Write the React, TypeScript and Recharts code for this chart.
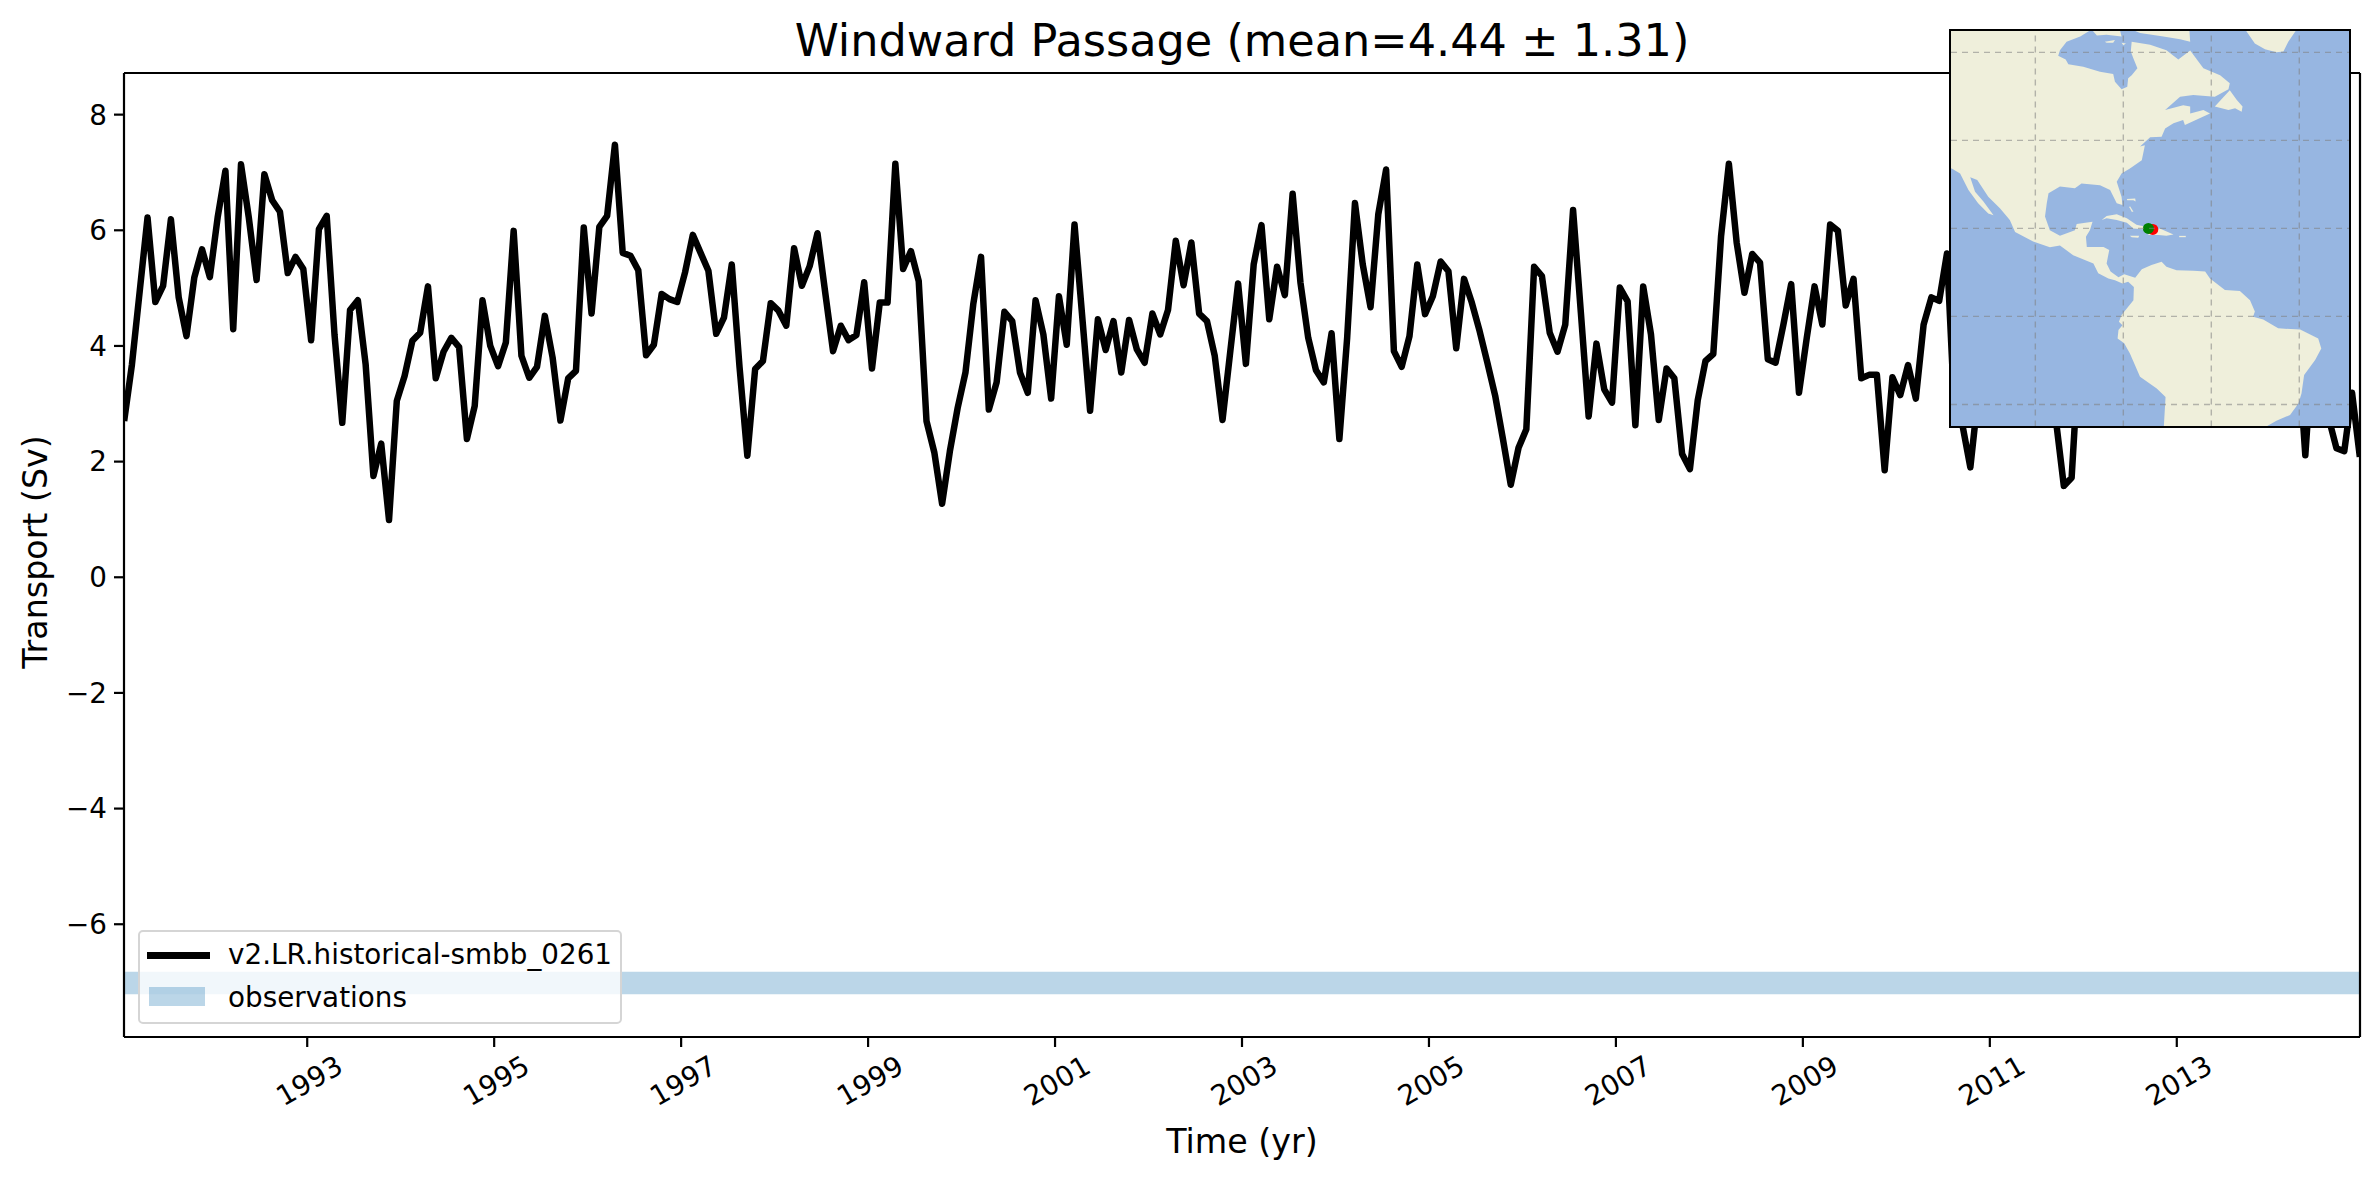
import {
    ComposedChart,
    Line,
    XAxis,
    YAxis,
    ReferenceArea,
    ReferenceLine,
    ScatterChart,
    Scatter,
} from "recharts";

// monthly transport, Jan 1991 - Dec 2014 (part of 2010-2014 sits behind the inset map)
const transport1991to1998 = [
    2.70, 3.68, 4.95, 6.22, 4.76, 5.04, 6.19, 4.84, 4.17, 5.18, 5.67, 5.19,
    6.22, 7.03, 4.29, 7.14, 6.22, 5.14, 6.97, 6.52, 6.32, 5.26, 5.54, 5.33,
    4.10, 6.02, 6.25, 4.20, 2.67, 4.62, 4.79, 3.68, 1.75, 2.31, 0.99, 3.05,
    3.48, 4.09, 4.23, 5.03, 3.44, 3.90, 4.14, 3.98, 2.39, 2.96, 4.79, 4.00,
    3.65, 4.06, 5.99, 3.83, 3.45, 3.64, 4.52, 3.80, 2.71, 3.44, 3.57, 6.05,
    4.56, 6.06, 6.25, 7.48, 5.61, 5.56, 5.31, 3.84, 4.02, 4.90, 4.81, 4.76,
    5.27, 5.92, 5.61, 5.30, 4.21, 4.49, 5.41, 3.63, 2.10, 3.60, 3.74, 4.74,
    4.61, 4.35, 5.69, 5.04, 5.38, 5.95, 4.92, 3.91, 4.35, 4.10, 4.19, 5.10,
];
const transport1999to2006 = [
    3.61, 4.75, 4.75, 7.15, 5.33, 5.64, 5.12, 2.70, 2.16, 1.27, 2.18, 2.93,
    3.54, 4.72, 5.54, 2.90, 3.37, 4.59, 4.43, 3.54, 3.19, 4.79, 4.20, 3.09,
    4.86, 4.02, 6.10, 4.49, 2.88, 4.46, 3.93, 4.43, 3.54, 4.45, 3.94, 3.71,
    4.56, 4.20, 4.62, 5.82, 5.05, 5.79, 4.56, 4.43, 3.83, 2.72, 3.91, 5.08,
    3.69, 5.41, 6.09, 4.46, 5.37, 4.88, 6.63, 5.10, 4.14, 3.58, 3.37, 4.22,
    2.39, 4.14, 6.47, 5.41, 4.67, 6.28, 7.05, 3.91, 3.64, 4.17, 5.41, 4.55,
    4.86, 5.46, 5.29, 3.96, 5.16, 4.75, 4.26, 3.71, 3.14, 2.39, 1.60, 2.24,
    2.56, 5.37, 5.21, 4.23, 3.90, 4.37, 6.35, 4.58, 2.78, 4.04, 3.25, 3.02,
];
const transport2007to2014 = [
    5.01, 4.77, 2.63, 5.03, 4.20, 2.72, 3.61, 3.44, 2.13, 1.87, 3.06, 3.74,
    3.86, 5.90, 7.15, 5.79, 4.92, 5.59, 5.44, 3.77, 3.71, 4.37, 5.07, 3.19,
    4.14, 5.03, 4.37, 6.10, 5.99, 4.70, 5.16, 3.44, 3.50, 3.50, 1.85, 3.46,
    3.15, 3.67, 3.09, 4.37, 4.84, 4.78, 5.60, 2.75, 2.62, 1.90, 3.15, 4.60,
    5.10, 4.30, 3.80, 5.40, 4.70, 3.90, 4.50, 3.20, 2.70, 1.58, 1.72, 4.00,
    5.20, 4.60, 5.80, 4.10, 3.70, 5.00, 6.00, 4.40, 3.60, 4.80, 5.30, 3.90,
    4.20, 5.60, 4.90, 3.50, 4.30, 5.10, 6.20, 4.70, 3.80, 4.50, 5.50, 4.00,
    3.60, 4.80, 5.20, 4.10, 2.11, 4.10, 4.00, 2.75, 2.23, 2.18, 3.19, 2.08,
];
const yearTicks = [1993, 1995, 1997, 1999, 2001, 2003, 2005, 2007, 2009, 2011, 2013];
const transportTicks = [-6, -4, -2, 0, 2, 4, 6, 8];
const obsLow = -7.21;
const obsHigh = -6.82;

// coastlines as lon/lat rings
const americas = [
    [-119.4, 65.2], [-87.2, 65.2], [-89.8, 63.6], [-92.9, 62.4], [-94.4, 60.5], [-94.8, 59.2], [-93.1, 58.4],
    [-92.5, 57.3], [-89.1, 56.7], [-85.3, 55.6], [-82.3, 55.1], [-81.9, 53.3], [-80.4, 51.6], [-79.1, 52.2],
    [-78.9, 54.1], [-78.1, 54.8], [-76.8, 56.4], [-77.7, 58.6], [-78.3, 60.2], [-78.1, 62.4], [-73.9, 61.7],
    [-70.2, 60.5], [-67.5, 58.4], [-64.8, 60.4], [-61.8, 56.4], [-58, 54.8], [-55.8, 53], [-56.1, 51.6],
    [-59.2, 49.9], [-64.1, 50.3], [-67.1, 49.9], [-70.5, 46.9], [-66.4, 48], [-64.8, 47.7], [-64.8, 46.1],
    [-61.8, 46.9], [-60.3, 46.1], [-66, 43.5], [-66.4, 44.6], [-68.6, 43.9], [-70.5, 42.7], [-71.3, 40.8],
    [-73.9, 40.7], [-76.2, 38.6], [-75.1, 38.9], [-75.8, 35.5], [-78.5, 33.6], [-80.4, 32.5], [-81.5, 30.6],
    [-80.4, 27.2], [-80.2, 25.3], [-81.5, 25.7], [-83, 28.7], [-85.3, 29.8], [-89.5, 30.2], [-91, 29.1],
    [-94.4, 29.5], [-97, 28], [-97.4, 25.7], [-97.8, 22.7], [-96.7, 19.6], [-94.4, 18.3], [-91, 19.6],
    [-90.6, 21], [-87, 21.5], [-87.6, 19.6], [-88.5, 18.1], [-88.3, 15.8], [-84.5, 15.8], [-83.2, 15.1],
    [-83.8, 12], [-82.9, 10.2], [-81.1, 8.9], [-79.8, 9.6], [-77.3, 8.8], [-75.8, 10.7], [-73.6, 11.7],
    [-71.3, 12.4], [-70.2, 11.3], [-67.9, 10.5], [-64.1, 10.4], [-61.4, 10.2], [-60.3, 8.6], [-56.9, 6],
    [-53.5, 5.8], [-51.2, 3.7], [-50.1, 1.1], [-50.5, -0.1], [-48.2, -0.7], [-44.8, -2.7], [-39.8, -3],
    [-35.7, -5], [-35, -7.3], [-36.4, -9.9], [-38.9, -13.3], [-39.5, -17.5], [-40.2, -19.8], [-42.1, -22.4],
    [-45.2, -23.7], [-47.8, -25.2], [-70.8, -25.2], [-70.4, -18.3], [-72.4, -16.4], [-76.2, -13.7], [-78.5, -8.4],
    [-79.8, -6.1], [-81.3, -5], [-81.1, -3.1], [-80.2, -2], [-81, -1.2], [-80.4, 0.3], [-77.7, 3.7],
    [-77.6, 6.7], [-78.9, 7.9], [-80.2, 7.5], [-81.9, 8.2], [-83.4, 8.6], [-85.7, 9.8], [-86.8, 12],
    [-91.4, 13.9], [-94.4, 16.1], [-96.7, 15.7], [-100.5, 17], [-104.6, 19.2], [-105.8, 21.9], [-108, 24.5],
    [-110.7, 27.2], [-113.2, 31], [-114.8, 31.6], [-113.7, 28.3], [-111.8, 26.1], [-109.5, 23], [-110.7, 23.4],
    [-113, 25.7], [-115.2, 28.7], [-117.1, 32.5], [-119, 33.6], [-119.4, 33.6],
];
const cuba = [
    [-84.9, 21.9], [-83.8, 22.8], [-81.5, 23.2], [-79.2, 22.3], [-77, 20.8], [-74.1, 20.2], [-75.5, 19.8],
    [-77.7, 20], [-79.2, 21.3], [-81.5, 21.9], [-83.8, 22.3],
];
const hispaniola = [[-74.3, 19.2], [-71.7, 20], [-68.6, 18.6], [-70.2, 18.3], [-72, 18.5], [-74.3, 18.5]];
const jamaica = [[-78.5, 18.3], [-76.4, 18.3], [-76.6, 17.9], [-78.1, 18]];
const puertoRico = [[-67.3, 18.3], [-65.8, 18.3], [-65.8, 18], [-67.3, 18]];
const bahamasNorth = [[-79.2, 26.7], [-77.3, 26.8], [-77.2, 26.1], [-77.7, 26.4], [-79.1, 26.4]];
const bahamasSouth = [[-78.5, 25.1], [-77.7, 23.8], [-78.1, 23.8], [-78.6, 24.8]];
const greenland = [[-52.3, 65.2], [-40.6, 65.2], [-42.5, 62.4], [-43.6, 60.2], [-45.2, 60], [-47.8, 60.7], [-50.1, 62]];
const baffinWest = [[-87.2, 65.2], [-80.8, 65.2], [-80.4, 63.6], [-83.8, 64], [-86, 63.8]];
const baffinEast = [[-78.1, 65.2], [-65, 65.2], [-64.8, 62.4], [-67.1, 63], [-70.9, 63.6], [-76.2, 64.4]];
const southampton = [[-84.2, 62.4], [-81.9, 62.8], [-82.3, 62.2], [-83.8, 62.2]];
const coats = [[-80.4, 62.2], [-79.4, 62], [-80, 61.6]];
const newfoundland = [
    [-59.2, 47.7], [-55.8, 51.4], [-54.2, 49.2], [-52.9, 47.7], [-53.1, 46.5], [-54.6, 47.3], [-56.1, 46.9],
];
const landRings = [
    americas, cuba, hispaniola, jamaica, puertoRico, bahamasNorth, bahamasSouth,
    greenland, baffinWest, baffinEast, southampton, coats, newfoundland,
];
const gridLons = [-100, -80, -60, -40];
const gridLats = [60, 40, 20, 0, -20];
const modelSite = [{ lon: -73.3, lat: 19.77 }];
const obsSite = [{ lon: -74.3, lat: 19.98 }];

const OCEAN = "#97b6e1";
const LAND = "#efefdb";
const FONT = "'DejaVu Sans', sans-serif";
const GRID_LINE = { stroke: "#808080", strokeOpacity: 0.55, strokeWidth: 1.4, strokeDasharray: "6 5", fill: "none" };

const data = [...transport1991to1998, ...transport1999to2006, ...transport2007to2014].map((v, i) => ({
    year: 1991 + (i + 0.5) / 12,
    v,
}));
const gridSegments = [
    ...gridLons.map((lon) => [{ lon, lat: -25 }, { lon, lat: 65 }]),
    ...gridLats.map((lat) => [{ lon: -119.17, lat }, { lon: -28.7, lat }]),
];

function minusSign(v: number) {
    return String(v).replace("-", "\u2212");
}

function siteDot(fill: string) {
    return (p: { cx?: number; cy?: number }) => <circle cx={p.cx} cy={p.cy} r={5.5} fill={fill} />;
}

function LegendBox() {
    return (
        <div
            style={{
                position: "absolute",
                left: 138,
                top: 930,
                width: 484,
                height: 94,
                boxSizing: "border-box",
                border: "2px solid #d5d5d5",
                borderRadius: 5,
                background: "rgba(255,255,255,0.8)",
                fontFamily: FONT,
                fontSize: 27.8,
                color: "#000",
            }}
        >
            <div style={{ position: "absolute", left: 7, top: 20, width: 63, height: 6.5, background: "#000" }} />
            <div style={{ position: "absolute", left: 88, top: 5, lineHeight: "36px", whiteSpace: "nowrap" }}>
                v2.LR.historical-smbb_0261
            </div>
            <div
                style={{ position: "absolute", left: 9, top: 55, width: 56, height: 19, background: "rgba(31,119,180,0.3)" }}
            />
            <div style={{ position: "absolute", left: 88, top: 48, lineHeight: "36px", whiteSpace: "nowrap" }}>
                observations
            </div>
        </div>
    );
}

function InsetMap() {
    return (
        <div
            style={{
                position: "absolute",
                left: 1949,
                top: 29,
                width: 402,
                height: 399,
                boxSizing: "border-box",
                border: "2px solid #000",
                background: OCEAN,
                overflow: "hidden",
            }}
        >
            <ScatterChart width={398} height={395} margin={{ top: 0, right: 0, bottom: 0, left: 0 }}>
                <XAxis type="number" dataKey="lon" domain={[-119.17, -28.7]} hide allowDataOverflow />
                <YAxis type="number" dataKey="lat" domain={[-24.9, 64.85]} hide allowDataOverflow />
                {landRings.map((ring, i) => (
                    <Scatter
                        key={i}
                        data={ring.map(([lon, lat]) => ({ lon, lat }))}
                        line={{ fill: LAND, stroke: "none" }}
                        shape={() => null}
                        isAnimationActive={false}
                    />
                ))}
                <Scatter data={modelSite} shape={siteDot("#ff0000")} isAnimationActive={false} />
                <Scatter data={obsSite} shape={siteDot("#008000")} isAnimationActive={false} />
                {gridSegments.map((segment, i) => (
                    <Scatter
                        key={`grid-${i}`}
                        data={segment}
                        line={GRID_LINE}
                        shape={() => null}
                        isAnimationActive={false}
                    />
                ))}
            </ScatterChart>
        </div>
    );
}

export default function App() {
    return (
        <div style={{ position: "absolute", left: 0, top: 0, width: 2379, height: 1180, background: "#fff" }}>
            <ComposedChart
                width={2379}
                height={1180}
                data={data}
                margin={{ top: 73, right: 19, bottom: 0, left: 0 }}
            >
                <XAxis
                    type="number"
                    dataKey="year"
                    domain={[1991.04, 2014.96]}
                    ticks={yearTicks}
                    allowDataOverflow
                    height={143}
                    interval={0}
                    angle={-30}
                    textAnchor="middle"
                    tickSize={10}
                    tickMargin={25}
                    stroke="#000"
                    strokeWidth={2.2}
                    tick={{ fill: "#000", fontSize: 27.8, fontFamily: FONT, dx: -3 }}
                    label={{
                        value: "Time (yr)",
                        position: "insideBottom",
                        offset: 27,
                        fill: "#000",
                        fontSize: 33.3,
                        fontFamily: FONT,
                    }}
                />
                <YAxis
                    type="number"
                    domain={[-7.95, 8.72]}
                    ticks={transportTicks}
                    allowDataOverflow
                    width={124}
                    interval={0}
                    tickSize={10}
                    tickMargin={7}
                    tickFormatter={minusSign}
                    stroke="#000"
                    strokeWidth={2.2}
                    tick={{ fill: "#000", fontSize: 27.8, fontFamily: FONT }}
                    label={{
                        value: "Transport (Sv)",
                        angle: -90,
                        position: "insideLeft",
                        offset: 35,
                        dy: -3,
                        fill: "#000",
                        fontSize: 33.3,
                        fontFamily: FONT,
                        style: { textAnchor: "middle" },
                    }}
                />
                <ReferenceArea y1={obsLow} y2={obsHigh} fill="#1f77b4" fillOpacity={0.3} stroke="none" />
                <Line
                    dataKey="v"
                    type="linear"
                    stroke="#000"
                    strokeWidth={6.5}
                    strokeLinejoin="round"
                    dot={false}
                    isAnimationActive={false}
                />
                <ReferenceLine x={2014.96} stroke="#000" strokeWidth={2.2} />
                <ReferenceLine y={8.72} stroke="#000" strokeWidth={2.2} />
            </ComposedChart>
            <div
                style={{
                    position: "absolute",
                    left: 124,
                    width: 2236,
                    top: 14,
                    textAlign: "center",
                    fontFamily: FONT,
                    fontSize: 44.6,
                    lineHeight: "54px",
                    color: "#000",
                }}
            >
                Windward Passage (mean=4.44 ± 1.31)
            </div>
            <LegendBox />
            <InsetMap />
        </div>
    );
}
